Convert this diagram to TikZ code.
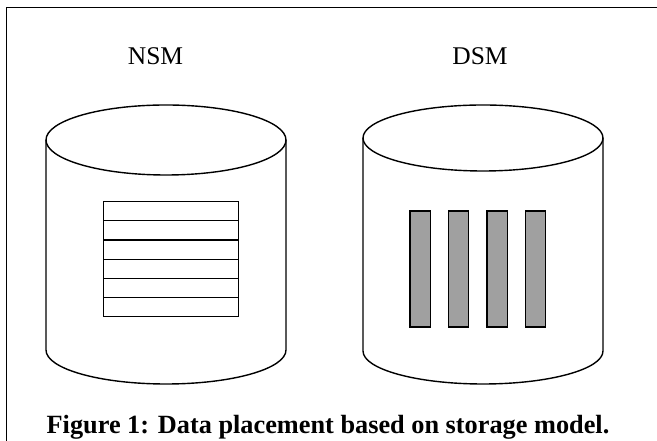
\documentclass[tikz,border=0pt]{standalone}
\usepackage{fontspec}
\setmainfont{Liberation Serif}
\usepackage{tikz}
\usetikzlibrary{positioning}
\definecolor{ink}{HTML}{000000}
\definecolor{bar}{HTML}{A0A0A0}
\tikzset{
  every picture/.style={line width=1.4pt,draw=ink},
  cyl/.style={draw=ink,line width=1.4pt,fill=white},
  row/.style={draw=ink,line width=1.2pt},
  col/.style={draw=ink,fill=bar,line width=1.2pt},
  lab/.style={font=\fontsize{25.5}{30}\selectfont,text=ink,anchor=base,inner sep=0pt},
  capt/.style={font=\fontsize{26.3}{30}\selectfont\bfseries,text=ink,anchor=base,inner sep=0pt},
}
\begin{document}
\begin{tikzpicture}[x=1pt,y=1pt]
  \useasboundingbox (0,0) rectangle (657,441);
  % frame
  \draw[line width=1pt] (657,433.5) -- (6.5,433.5) -- (6.5,0);
  % NSM cylinder
  \draw[cyl] (46,301) -- (46,91) arc[start angle=180,end angle=360,x radius=120,y radius=34] -- (286,301);
  \draw[cyl] (166,301) ellipse[x radius=120,y radius=35];
  \draw[row] (103.3,124.3) rectangle (238.3,239.3);
  \foreach \k in {1,...,5} \draw[row] (103.3,124.3+19.17*\k) -- (238.3,124.3+19.17*\k);
  % DSM cylinder
  \draw[cyl] (363,303) -- (363,90) arc[start angle=180,end angle=360,x radius=120,y radius=33] -- (603,303);
  \draw[cyl] (483,303) ellipse[x radius=120,y radius=33];
  \foreach \x in {410,448.5,487,525.5} \draw[col] (\x,114) rectangle ++(20.3,116);
  % labels
  \node[lab] (nsm) at (155.5,376.7) {NSM};
  \node[lab] (dsm) at (480,376.7) {DSM};
  \node[capt] (cap) at (328,7) {Figure 1: Data placement based on storage model.};
\end{tikzpicture}
\end{document}
